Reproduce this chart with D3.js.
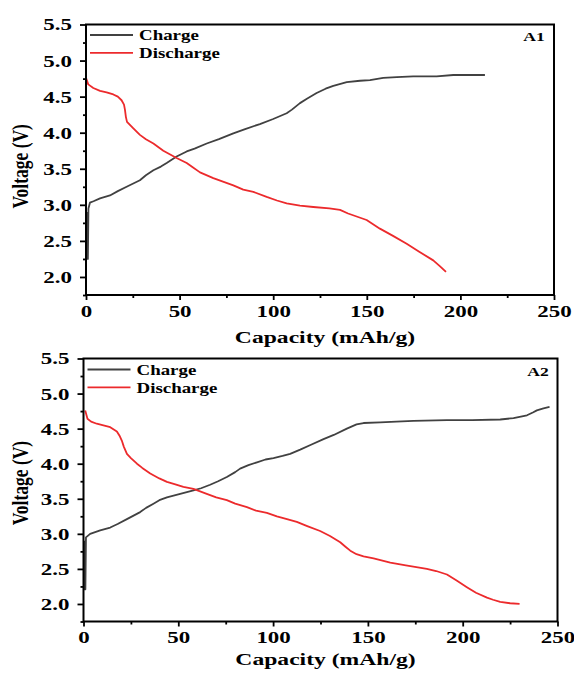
<!DOCTYPE html>
<html>
<head>
<meta charset="utf-8">
<script src="https://cdn.jsdelivr.net/npm/d3@7"></script>
<style>
  html, body { margin: 0; padding: 0; background: #fff; }
  svg { display: block; }
  text { font-family: "Liberation Serif", "Times New Roman", serif; font-weight: bold; fill: #000; }
</style>
</head>
<body>
<svg id="chart" width="574" height="673"></svg>
<script>
// Charge / discharge profiles, [capacity (mAh/g), voltage (V)]
const chargeA1 = [
  [0.3,2.9],[0.6,2.25],[1.0,2.25],[1.3,2.95],[2.1,3.03],[4,3.05],[7.5,3.09],[12.8,3.13],[17,3.19],
  [21.7,3.25],[28.8,3.34],[32,3.41],[36,3.48],[40,3.53],[43.1,3.58],[48.4,3.67],[53.8,3.74],[58,3.78],
  [64.5,3.85],[71,3.91],[78.7,3.99],[85,4.05],[92.9,4.12],[100,4.19],[107.2,4.27],[110,4.32],[114.3,4.41],
  [118,4.47],[123.2,4.55],[128,4.61],[132.1,4.65],[139.3,4.70],[146.4,4.72],[151.7,4.73],[158.8,4.76],
  [166,4.77],[174.8,4.78],[187.3,4.78],[196.2,4.80],[205,4.80],[213.1,4.80]
];
const dischargeA1 = [
  [0,4.76],[1.2,4.67],[3.9,4.62],[7.5,4.58],[11,4.56],[14.6,4.53],[17,4.50],[19,4.45],[20.3,4.39],
  [20.8,4.32],[21.3,4.22],[21.9,4.15],[25.3,4.06],[28.8,3.97],[32,3.91],[36,3.85],[41.3,3.75],[48.4,3.65],
  [53.8,3.58],[57,3.52],[60.9,3.45],[68,3.37],[78.7,3.27],[84,3.21],[89.4,3.18],[96.5,3.11],[102,3.06],
  [107.2,3.02],[114.3,2.99],[121.4,2.97],[130,2.95],[135.7,2.93],[140,2.88],[149.9,2.79],[157,2.67],
  [164,2.57],[171.3,2.46],[178,2.35],[185.5,2.23],[189,2.15],[192.3,2.07]
];
const chargeA2 = [
  [0.3,2.9],[0.6,2.21],[1.0,2.21],[1.3,2.95],[3.5,3.0],[8.8,3.05],[14.1,3.09],[18,3.14],[22.9,3.21],
  [29.9,3.31],[33,3.37],[36.9,3.43],[40,3.48],[44,3.52],[51,3.57],[58,3.62],[62,3.65],[66.8,3.70],
  [71,3.75],[75.6,3.81],[80,3.88],[82.6,3.93],[87,3.98],[91.5,4.02],[96,4.06],[100.2,4.08],[105,4.11],
  [109,4.14],[114.3,4.20],[120,4.27],[126.6,4.35],[132,4.41],[138.9,4.50],[144,4.56],[147.7,4.58],
  [156.5,4.59],[165,4.60],[174,4.61],[191.7,4.62],[205,4.62],[219.8,4.63],[226.8,4.65],[233.9,4.69],
  [237,4.73],[239.1,4.76],[242.6,4.79],[245.8,4.81]
];
const dischargeA2 = [
  [0.9,4.76],[2.1,4.64],[4,4.60],[7,4.57],[10,4.55],[14.1,4.52],[17.6,4.46],[19,4.40],[20.2,4.33],
  [21.3,4.24],[22.9,4.14],[25,4.08],[28.2,4.00],[31,3.94],[35.2,3.86],[40,3.79],[44,3.74],[48,3.71],
  [52.7,3.67],[58,3.64],[65,3.57],[70,3.52],[75.6,3.48],[80,3.43],[86.2,3.38],[91,3.33],[96.7,3.30],
  [102,3.25],[107.3,3.21],[112.5,3.17],[118,3.11],[124.8,3.04],[130,2.97],[135.4,2.88],[138,2.82],
  [140.7,2.76],[144,2.71],[147.7,2.68],[153,2.65],[161.8,2.59],[170,2.55],[181.1,2.50],[186,2.47],
  [191.7,2.42],[197,2.33],[202.2,2.24],[207,2.16],[212.8,2.09],[216,2.06],[219.8,2.03],[225,2.01],[230,2.00]
];

const xTicks = [0, 50, 100, 150, 200, 250];
const xMinorTicks = [25, 75, 125, 175, 225];
const yTicks = [2.0, 2.5, 3.0, 3.5, 4.0, 4.5, 5.0, 5.5];
const yMinorTicks = [1.75, 2.25, 2.75, 3.25, 3.75, 4.25, 4.75, 5.25];
const seriesNames = ["Charge", "Discharge"];
const panelLabels = ["A1", "A2"];
const xTitle = "Capacity (mAh/g)";
const yTitle = "Voltage (V)";

const colors = { Charge: "#414141", Discharge: "#ec2a2c" };
const SX = 1.35;   // horizontal stretch of the lettering

const svg = d3.select("#chart");

const panels = [
  { left: 86, top: 24.5, width: 468, height: 270.5, charge: chargeA1, discharge: dischargeA1,
    label: panelLabels[0], labelX: 534, labelY: 41, legendY: 35, xLabelPad: 5, titleY: 342.5,
    yTitleShift: 6.5 },
  { left: 83.5, top: 358.5, width: 474, height: 263, charge: chargeA2, discharge: dischargeA2,
    label: panelLabels[1], labelX: 538, labelY: 376, legendY: 369.5, xLabelPad: 4.5, titleY: 665,
    yTitleShift: -7 }
];

function stretchedText(g, x, y, str, size, anchor) {
  return g.append("text")
    .attr("transform", `translate(${x},${y}) scale(${SX},1)`)
    .attr("text-anchor", anchor || "start")
    .style("font-size", size + "px")
    .text(str);
}

panels.forEach(p => {
  const x = d3.scaleLinear().domain([0, 250]).range([p.left, p.left + p.width]);
  const y = d3.scaleLinear().domain([1.75, 5.5]).range([p.top + p.height, p.top]);
  const g = svg.append("g");

  // major + minor ticks, bottom
  const xAxis = g.append("g")
    .attr("transform", `translate(0,${p.top + p.height})`)
    .call(d3.axisBottom(x).tickValues(xTicks).tickFormat(d3.format("d")).tickSize(5).tickPadding(p.xLabelPad));
  g.append("g")
    .attr("transform", `translate(0,${p.top + p.height})`)
    .call(d3.axisBottom(x).tickValues(xMinorTicks).tickFormat("").tickSize(3));

  // major + minor ticks, left
  const yAxis = g.append("g")
    .attr("transform", `translate(${p.left},0)`)
    .call(d3.axisLeft(y).tickValues(yTicks).tickFormat(d3.format(".1f")).tickSize(6).tickPadding(8));
  g.append("g")
    .attr("transform", `translate(${p.left},0)`)
    .call(d3.axisLeft(y).tickValues(yMinorTicks).tickFormat("").tickSize(3));

  g.selectAll(".domain").remove();
  g.selectAll(".tick line").attr("stroke", "#000").attr("stroke-width", 1.8);

  xAxis.selectAll(".tick text")
    .style("font-size", "17px")
    .attr("transform", `scale(${SX},1)`);
  yAxis.selectAll(".tick text")
    .style("font-size", "17px")
    .attr("x", -14 / SX)
    .attr("transform", `scale(${SX},1)`);

  // curves
  const line = d3.line().x(d => x(d[0])).y(d => y(d[1]));
  g.append("path").datum(p.charge)
    .attr("fill", "none").attr("stroke", colors.Charge).attr("stroke-width", 1.8)
    .attr("stroke-linejoin", "round").attr("d", line);
  g.append("path").datum(p.discharge)
    .attr("fill", "none").attr("stroke", colors.Discharge).attr("stroke-width", 1.8)
    .attr("stroke-linejoin", "round").attr("d", line);

  // frame
  g.append("rect")
    .attr("x", p.left).attr("y", p.top).attr("width", p.width).attr("height", p.height)
    .attr("fill", "none").attr("stroke", "#000").attr("stroke-width", 2);

  // legend
  seriesNames.forEach((name, i) => {
    const ly = p.legendY + i * 17.8;
    g.append("line")
      .attr("x1", p.left + 4).attr("x2", p.left + 47)
      .attr("y1", ly).attr("y2", ly)
      .attr("stroke", colors[name]).attr("stroke-width", 1.8);
    stretchedText(g, p.left + 53, ly + 5.3, name, 14);
  });

  // panel label
  stretchedText(g, p.labelX, p.labelY, p.label, 13, "middle");

  // axis titles
  stretchedText(g, p.left + p.width / 2 + 5, p.titleY, xTitle, 17.5, "middle");
  g.append("text")
    .attr("transform", `translate(28,${p.top + p.height / 2 + p.yTitleShift}) scale(${SX},1) rotate(-90)`)
    .attr("text-anchor", "middle")
    .style("font-size", "17.5px")
    .text(yTitle);
});
</script>
</body>
</html>
